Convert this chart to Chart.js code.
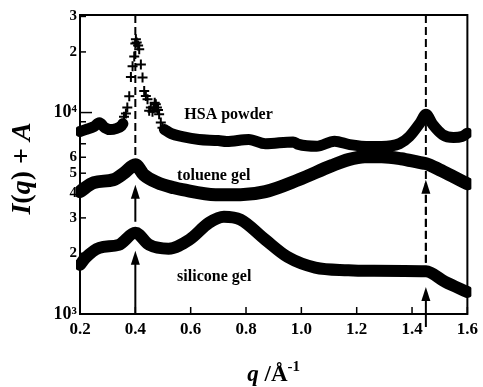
<!DOCTYPE html>
<html>
<head>
<meta charset="utf-8">
<script src="https://cdn.jsdelivr.net/npm/chart.js@4.4.1/dist/chart.umd.min.js"></script>
<style>
html,body{margin:0;padding:0;background:#fff;}
#wrap{width:483px;height:387px;}
</style>
</head>
<body>
<div id="wrap"><canvas id="c" width="483" height="387"></canvas></div>
<script>
// ---- data ----
const xTickValues = [0.2, 0.4, 0.6, 0.8, 1.0, 1.2, 1.4, 1.6];
const xTickLabels = ['0.2', '0.4', '0.6', '0.8', '1.0', '1.2', '1.4', '1.6'];
const yTickValues = [1000, 2000, 3000, 4000, 5000, 6000, 7000, 8000, 9000, 10000, 20000, 30000];
const yTickLabels = ['10³', '2', '3', '4', '5', '6', '', '', '', '10⁴', '2', '3'];

const hsaQ = [0.20, 0.22, 0.25, 0.27, 0.29, 0.31, 0.33, 0.35, 0.355, 0.43, 0.505, 0.53, 0.57, 0.63, 0.70, 0.73, 0.81, 0.87, 0.97, 0.99, 1.055, 1.12, 1.175, 1.25, 1.29, 1.355, 1.39, 1.43, 1.45, 1.475, 1.51, 1.55, 1.58, 1.60];
const hsaI = [8050, 8230, 8510, 8900, 8410, 8230, 8320, 8600, 8800, null, 8240, 7860, 7600, 7350, 7260, 7180, 7350, 7000, 7150, 6950, 6800, 7200, 6930, 6780, 6780, 7010, 7600, 8930, 9800, 8720, 7780, 7520, 7600, 7900];

const hsaPeakQ = [0.352, 0.359, 0.366, 0.371, 0.378, 0.384, 0.390, 0.396, 0.400, 0.402, 0.405, 0.410, 0.414, 0.420, 0.426, 0.432, 0.438, 0.444, 0.450, 0.456, 0.462, 0.466, 0.470, 0.474, 0.478, 0.482, 0.486, 0.492, 0.498];
const hsaPeakI = [8800, 9530, 9900, 10600, 12040, 15000, 17000, 19000, 22000, 23100, 22300, 21500, 20600, 17300, 14950, 12800, 12100, 11650, 10200, 10600, 10100, 10500, 11200, 11000, 10600, 10300, 9800, 8930, 8400];

const tolQ = [0.20, 0.25, 0.32, 0.36, 0.40, 0.43, 0.48, 0.54, 0.57, 0.69, 0.78, 0.87, 0.99, 1.11, 1.17, 1.23, 1.29, 1.36, 1.43, 1.45, 1.50, 1.55, 1.60];
const tolI = [4050, 4490, 4640, 5020, 5510, 4920, 4490, 4230, 4140, 3910, 3910, 4050, 4640, 5450, 5840, 6040, 6040, 5900, 5640, 5580, 5200, 4800, 4430];

const silQ = [0.20, 0.22, 0.27, 0.34, 0.40, 0.45, 0.52, 0.595, 0.667, 0.72, 0.78, 0.87, 0.95, 1.05, 1.17, 1.24, 1.45, 1.52, 1.60];
const silI = [1753, 1900, 2130, 2205, 2530, 2205, 2110, 2335, 2840, 3040, 2940, 2335, 1920, 1700, 1650, 1640, 1630, 1443, 1286];

const seriesNames = ['HSA powder', 'toluene gel', 'silicone gel'];
const labelQ = [0.577, 0.551, 0.551];
const labelI = [9770, 4860, 1528];

// reference lines (q) and arrows (q, tail value, tip value)
const guideQ = [0.4, 1.45];
const guideBottomI = [5500, 1795];
const arrowQ = [0.4, 0.4, 1.45, 1.45];
const arrowFromI = [1000, 2870, 862, 1795];
const arrowToI = [2060, 4380, 1363, 4640];
const arrowDashed = [false, false, false, true];

const pts = (qs, vs) => qs.map((q, i) => ({x: q, y: vs[i]}));
const SERIF = "'Liberation Serif', 'Times New Roman', serif";

const deco = {
  id: 'deco',
  beforeDatasetsDraw(chart) {
    const ctx = chart.ctx, xs = chart.scales.x, ys = chart.scales.y;
    ctx.save();
    ctx.strokeStyle = '#000';
    ctx.lineWidth = 2;
    ctx.setLineDash([8, 4]);
    guideQ.forEach((q, i) => {
      const x = xs.getPixelForValue(q);
      ctx.beginPath();
      ctx.moveTo(x, chart.chartArea.top);
      ctx.lineTo(x, ys.getPixelForValue(guideBottomI[i]));
      ctx.stroke();
    });
    ctx.restore();
  },
  afterDatasetsDraw(chart) {
    const ctx = chart.ctx, xs = chart.scales.x, ys = chart.scales.y, a = chart.chartArea;
    ctx.save();
    ctx.strokeStyle = '#000';
    ctx.fillStyle = '#000';
    // arrows
    arrowQ.forEach((q, i) => {
      const x = xs.getPixelForValue(q);
      const y0 = ys.getPixelForValue(arrowFromI[i]);
      const y1 = ys.getPixelForValue(arrowToI[i]);
      ctx.lineWidth = 2;
      ctx.setLineDash(arrowDashed[i] ? [8, 4] : []);
      ctx.beginPath();
      ctx.moveTo(x, y0);
      ctx.lineTo(x, y1 + 10);
      ctx.stroke();
      ctx.setLineDash([]);
      ctx.beginPath();
      ctx.moveTo(x, y1);
      ctx.lineTo(x - 4.5, y1 + 14);
      ctx.lineTo(x + 4.5, y1 + 14);
      ctx.closePath();
      ctx.fill();
    });
    // frame
    ctx.setLineDash([]);
    ctx.lineWidth = 2;
    ctx.strokeRect(a.left, a.top, a.right - a.left, a.bottom - a.top);
    // inward tick marks
    ctx.lineWidth = 1.5;
    ys.ticks.forEach(t => {
      const y = ys.getPixelForValue(t.value);
      const len = (t.value === 1000 || t.value === 10000) ? 12 : 6;
      ctx.beginPath();
      ctx.moveTo(a.left, y);
      ctx.lineTo(a.left + len, y);
      ctx.stroke();
    });
    xs.ticks.forEach(t => {
      const x = xs.getPixelForValue(t.value);
      ctx.beginPath();
      ctx.moveTo(x, a.bottom);
      ctx.lineTo(x, a.bottom - 7);
      ctx.stroke();
    });
    // series labels
    ctx.font = 'bold 16px ' + SERIF;
    ctx.textAlign = 'left';
    ctx.textBaseline = 'middle';
    seriesNames.forEach((n, i) => {
      ctx.fillText(n, xs.getPixelForValue(labelQ[i]), ys.getPixelForValue(labelI[i]));
    });
    // y axis title: I(q) + A
    const yParts = [['I', true], ['(', false], ['q', true], [')', false], [' + ', false], ['A', true]];
    const fy = s => (s ? 'italic ' : '') + 'bold 28px ' + SERIF;
    let total = 0;
    yParts.forEach(p => { ctx.font = fy(p[1]); total += ctx.measureText(p[0]).width; });
    ctx.translate(23, (a.top + a.bottom) / 2 + 4);
    ctx.rotate(-Math.PI / 2);
    ctx.textBaseline = 'middle';
    let cx = -total / 2;
    yParts.forEach(p => { ctx.font = fy(p[1]); ctx.fillText(p[0], cx, 0); cx += ctx.measureText(p[0]).width; });
    ctx.setTransform(1, 0, 0, 1, 0, 0);
    // x axis title: q /Å-1
    ctx.textBaseline = 'alphabetic';
    const xParts = [['q', 'italic bold 23px ', 0], [' /Å', 'bold 23px ', 0], ['-1', 'bold 15px ', -10]];
    total = 0;
    xParts.forEach(p => { ctx.font = p[1] + SERIF; total += ctx.measureText(p[0]).width; });
    cx = (a.left + a.right) / 2 - total / 2;
    xParts.forEach(p => { ctx.font = p[1] + SERIF; ctx.fillText(p[0], cx, 381 + p[2]); cx += ctx.measureText(p[0]).width; });
    ctx.restore();
  }
};

const lineStyle = {
  borderColor: '#000',
  backgroundColor: '#000',
  borderWidth: 12,
  pointRadius: 0,
  borderCapStyle: 'round',
  borderJoinStyle: 'round',
  cubicInterpolationMode: 'monotone',
  spanGaps: false,
  clip: 4
};

new Chart(document.getElementById('c'), {
  type: 'line',
  data: {
    datasets: [
      Object.assign({label: seriesNames[0], data: pts(hsaQ, hsaI)}, lineStyle, {borderWidth: 11}),
      {label: seriesNames[0] + ' peak', data: pts(hsaPeakQ, hsaPeakI), showLine: false, pointStyle: 'cross', pointRadius: 5, pointBorderWidth: 2, borderColor: '#000', backgroundColor: '#000', clip: 4},
      Object.assign({label: seriesNames[1], data: pts(tolQ, tolI)}, lineStyle, {borderWidth: 13}),
      Object.assign({label: seriesNames[2], data: pts(silQ, silI)}, lineStyle)
    ]
  },
  options: {
    responsive: false,
    animation: false,
    layout: {padding: {top: 15, right: 15, left: 0, bottom: 0}},
    plugins: {legend: {display: false}, tooltip: {enabled: false}},
    scales: {
      x: {
        type: 'linear', min: 0.2, max: 1.6,
        afterBuildTicks: s => { s.ticks = xTickValues.map(v => ({value: v})); },
        afterFit: s => { s.height = 73; },
        grid: {display: false, drawTicks: false},
        border: {display: false},
        ticks: {autoSkip: false, maxRotation: 0, padding: 5, color: '#000',
          font: {family: SERIF, weight: 'bold', size: 17},
          callback: (v, i) => xTickLabels[i]}
      },
      y: {
        type: 'logarithmic', min: 1000, max: 30500,
        afterBuildTicks: s => { s.ticks = yTickValues.map(v => ({value: v})); },
        afterFit: s => { s.width = 80; },
        grid: {display: false, drawTicks: false},
        border: {display: false},
        ticks: {autoSkip: false, padding: 3, color: '#000',
          font: c => ({family: SERIF, weight: 'bold', size: (c.tick && (c.tick.value === 1000 || c.tick.value === 10000)) ? 18 : 15}),
          callback: (v, i) => yTickLabels[i]}
      }
    }
  },
  plugins: [deco]
});
</script>
</body>
</html>
